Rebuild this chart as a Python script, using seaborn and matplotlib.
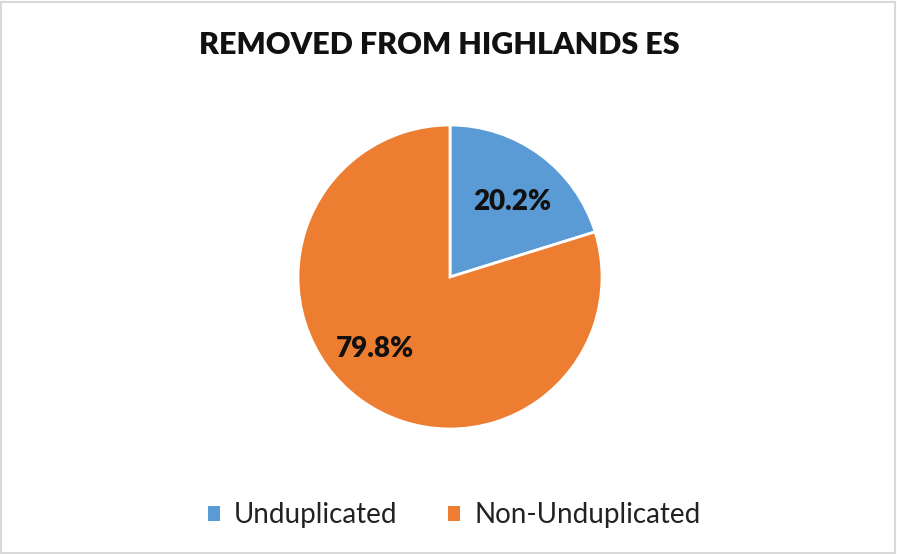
import matplotlib.pyplot as plt
import seaborn as sns
from matplotlib.patches import Patch, Rectangle


TITLE = "REMOVED FROM HIGHLANDS ES"
CATEGORIES = ["Unduplicated", "Non-Unduplicated"]
SHARES = [20.2, 79.8]
COLORS = ["#5B9BD5", "#ED7D31"]


def main() -> None:
    sns.set_theme(style="white")
    plt.rcParams["font.family"] = ["Lato", "DejaVu Sans"]

    fig = plt.figure(figsize=(8.97, 5.54), dpi=100)
    fig.patch.set_facecolor("white")

    # pie centred at (450, 277) px with radius ~152 px
    W, H = 897, 554
    cx, cy, r = 450, 277, 152
    ax = fig.add_axes([(cx - r) / W, (H - cy - r) / H, 2 * r / W, 2 * r / H])

    wedges, texts, autotexts = ax.pie(
        SHARES,
        colors=COLORS,
        startangle=90,
        counterclock=False,
        autopct="%.1f%%",
        pctdistance=0.66,
        wedgeprops={"edgecolor": "white", "linewidth": 2},
        textprops={"fontsize": 20, "fontweight": "heavy", "color": "#111111"},
    )
    ax.set_xlim(-1, 1)
    ax.set_ylim(-1, 1)
    ax.set_aspect("equal")
    # nudge labels to where the original puts them
    x, y = autotexts[1].get_position()
    autotexts[1].set_position((x - 0.1, y + 0.06))
    x, y = autotexts[0].get_position()
    autotexts[0].set_position((x + 0.02, y - 0.04))

    fig.text(439 / W, 1 - 45 / H, TITLE, ha="center", va="center",
             fontsize=22, fontweight="heavy", color="#111111")

    handles = [Patch(facecolor=c, edgecolor="none", label=l)
               for c, l in zip(COLORS, CATEGORIES)]
    fig.legend(handles=handles, loc="center", bbox_to_anchor=(454 / W, 1 - 515 / H),
               ncol=2, frameon=False, fontsize=20, handlelength=0.45, handleheight=0.45,
               handletextpad=0.5, columnspacing=1.8, labelcolor="#222222")

    fig.add_artist(Rectangle((0.001, 0.002), 0.997, 0.995, transform=fig.transFigure,
                             fill=False, edgecolor="#d9d9d9", linewidth=1.5))

    fig.savefig("out.png", dpi=100)
    plt.close(fig)


if __name__ == "__main__":
    main()
